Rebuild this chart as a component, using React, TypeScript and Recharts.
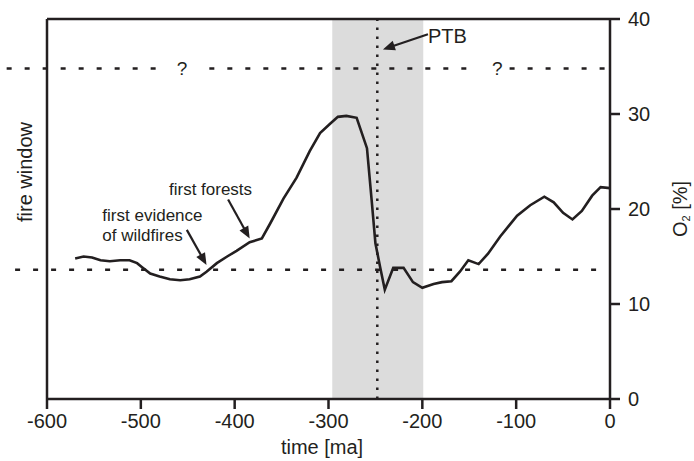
import {
  ComposedChart,
  Line,
  XAxis,
  YAxis,
  ReferenceArea,
  ReferenceLine,
  ReferenceDot,
} from "recharts";

// time before present [Ma] and atmospheric O2 [%]
const timeMa = [
  -570, -561, -552, -543, -533, -522, -512, -504, -499, -490, -480, -469, -458, -448, -437, -430,
  -419, -408, -398, -384, -371, -362, -348, -334, -320, -309, -298, -290, -281, -270, -259, -254,
  -250, -245, -240, -231, -220, -210, -200, -188, -179, -169, -160, -151, -140, -130, -117, -99,
  -85, -70, -60, -50, -40, -30, -19, -10, 0,
];
const o2Pct = [
  14.8, 15.0, 14.9, 14.6, 14.5, 14.6, 14.6, 14.3, 13.9, 13.2, 12.9, 12.6, 12.5, 12.6, 12.9, 13.4,
  14.3, 15.0, 15.6, 16.5, 16.9, 18.5, 21.1, 23.3, 26.1, 28.0, 29.0, 29.7, 29.8, 29.6, 26.4, 20.9,
  16.4, 13.9, 11.5, 13.8, 13.8, 12.3, 11.7, 12.1, 12.3, 12.4, 13.4, 14.6, 14.2, 15.3, 17.1, 19.3,
  20.4, 21.3, 20.7, 19.6, 18.9, 19.8, 21.4, 22.3, 22.2,
];

const xTicks = [-600, -500, -400, -300, -200, -100, 0];
const yTicks = [0, 10, 20, 30, 40];

// fire window limits and the Permian-Triassic boundary
const fireLow = 13.6;
const fireHigh = 34.8;
const ptb = -248;
const bandStart = -296;
const bandEnd = -199;

const data = timeMa.map((t, i) => ({ t, o2: o2Pct[i] }));

const INK = "#231f20";
const FONT = "'Liberation Sans', Arial, sans-serif";

function Arrow(props: any) {
  const { x1, y1, x2, y2 } = props;
  const dx = x2 - x1;
  const dy = y2 - y1;
  const len = Math.sqrt(dx * dx + dy * dy) || 1;
  const ux = dx / len;
  const uy = dy / len;
  const head = 12;
  const half = 5;
  const bx = x2 - ux * head;
  const by = y2 - uy * head;
  const pts = `${x2},${y2} ${bx - uy * half},${by + ux * half} ${bx + uy * half},${by - ux * half}`;
  return (
    <g>
      <line x1={x1} y1={y1} x2={bx + ux * 2} y2={by + uy * 2} stroke={INK} strokeWidth={2.2} />
      <polygon points={pts} fill={INK} />
    </g>
  );
}

const textAt = (value: string, size: number, anchor: "start" | "middle" = "start") =>
  function TextShape(props: any) {
    return (
      <text
        x={props.cx}
        y={props.cy}
        dy="0.35em"
        textAnchor={anchor}
        fontSize={size}
        fontFamily={FONT}
        fill={INK}
      >
        {value}
      </text>
    );
  };

const dashed = { stroke: INK, strokeWidth: 2.5, strokeDasharray: "5 13", ifOverflow: "visible" as const };

export default function App() {
  return (
    <div style={{ position: "absolute", left: 0, top: 0, background: "#fff" }}>
      <ComposedChart width={694} height={461} data={data} margin={{ top: 19, right: 0, bottom: 0, left: 0 }}>
        <ReferenceArea
          yAxisId="o2"
          x1={bandStart}
          x2={bandEnd}
          y1={0}
          y2={40}
          fill="#dcdcdc"
          fillOpacity={1}
          stroke="none"
        />
        <XAxis
          dataKey="t"
          type="number"
          domain={[-600, 0]}
          ticks={xTicks}
          allowDataOverflow
          height={62}
          tickSize={10}
          tickMargin={5}
          axisLine={{ stroke: INK, strokeWidth: 2.5 }}
          tickLine={{ stroke: INK, strokeWidth: 2.5 }}
          tick={{ fill: INK, fontSize: 20, fontFamily: FONT }}
          label={(p: any) => (
            <text
              x={p.viewBox.x + 275}
              y={p.viewBox.y + 55}
              textAnchor="middle"
              fontSize={20}
              fontFamily={FONT}
              fill={INK}
            >
              time [ma]
            </text>
          )}
        />
        <YAxis
          yAxisId="left"
          orientation="left"
          domain={[0, 40]}
          width={47}
          tick={false}
          tickLine={false}
          axisLine={{ stroke: INK, strokeWidth: 2.5 }}
          label={(p: any) => {
            const x = p.viewBox.x + 32;
            const y = p.viewBox.y + 153;
            return (
              <text
                x={x}
                y={y}
                transform={`rotate(-90, ${x}, ${y})`}
                textAnchor="middle"
                fontSize={20}
                fontFamily={FONT}
                fill={INK}
              >
                fire window
              </text>
            );
          }}
        />
        <YAxis
          yAxisId="o2"
          orientation="right"
          domain={[0, 40]}
          ticks={yTicks}
          width={84}
          tickSize={10}
          tickMargin={8}
          axisLine={{ stroke: INK, strokeWidth: 2.5 }}
          tickLine={{ stroke: INK, strokeWidth: 2.5 }}
          tick={{ fill: INK, fontSize: 20, fontFamily: FONT }}
          label={(p: any) => {
            const x = p.viewBox.x + 77;
            const y = p.viewBox.y + p.viewBox.height / 2;
            return (
              <text
                x={x}
                y={y}
                transform={`rotate(-90, ${x}, ${y})`}
                textAnchor="middle"
                fontSize={20}
                fontFamily={FONT}
                fill={INK}
              >
                O
                <tspan fontSize={11} dy={3}>
                  2
                </tspan>
                <tspan dy={-3}> [%]</tspan>
              </text>
            );
          }}
        />
        <ReferenceLine yAxisId="o2" y={40} stroke={INK} strokeWidth={2.5} />

        <ReferenceLine yAxisId="o2" segment={[{ x: -643, y: fireHigh }, { x: -482, y: fireHigh }]} {...dashed} />
        <ReferenceLine yAxisId="o2" segment={[{ x: -427, y: fireHigh }, { x: -141, y: fireHigh }]} {...dashed} />
        <ReferenceLine yAxisId="o2" segment={[{ x: -107, y: fireHigh }, { x: 0, y: fireHigh }]} {...dashed} />
        <ReferenceLine yAxisId="o2" segment={[{ x: -634, y: fireLow }, { x: -10, y: fireLow }]} {...dashed} />
        <ReferenceDot yAxisId="o2" x={-456} y={fireHigh} r={0} shape={textAt("?", 19, "middle")} />
        <ReferenceDot yAxisId="o2" x={-120} y={fireHigh} r={0} shape={textAt("?", 19, "middle")} />

        <ReferenceLine
          yAxisId="o2"
          segment={[{ x: ptb, y: 0 }, { x: ptb, y: 40 }]}
          stroke={INK}
          strokeWidth={2.5}
          strokeDasharray="2.5 6.5"
        />

        <Line
          yAxisId="o2"
          type="linear"
          dataKey="o2"
          stroke={INK}
          strokeWidth={2.6}
          dot={false}
          isAnimationActive={false}
        />

        <ReferenceLine yAxisId="o2" segment={[{ x: -194, y: 38.4 }, { x: -242, y: 36.8 }]} shape={Arrow} />
        <ReferenceDot yAxisId="o2" x={-194} y={38.2} r={0} shape={textAt("PTB", 20)} />

        <ReferenceLine yAxisId="o2" segment={[{ x: -407, y: 21.0 }, { x: -384, y: 16.9 }]} shape={Arrow} />
        <ReferenceDot yAxisId="o2" x={-470} y={22.1} r={0} shape={textAt("first forests", 17)} />

        <ReferenceLine yAxisId="o2" segment={[{ x: -451, y: 17.8 }, { x: -430, y: 14.1 }]} shape={Arrow} />
        <ReferenceDot yAxisId="o2" x={-541} y={19.4} r={0} shape={textAt("first evidence", 17)} />
        <ReferenceDot yAxisId="o2" x={-541} y={17.3} r={0} shape={textAt("of wildfires", 17)} />
      </ComposedChart>
    </div>
  );
}
